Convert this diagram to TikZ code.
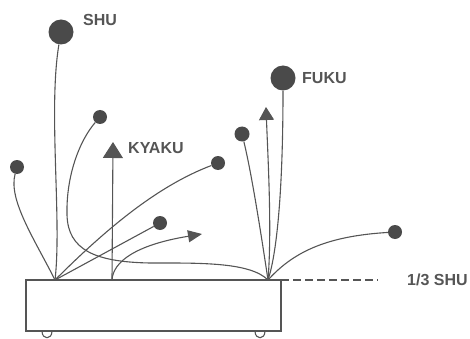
\documentclass[tikz,border=0pt]{standalone}
\usepackage{fontspec}
\setmainfont{Liberation Sans}
\usetikzlibrary{arrows.meta}
\definecolor{ink}{HTML}{555555}
\definecolor{dot}{HTML}{4A4A4A}
\tikzset{
  stem/.style={draw=ink, line width=1.1pt},
  bigdot/.style={circle, fill=dot, inner sep=0pt, minimum size=25pt},
  smalldot/.style={circle, fill=dot, inner sep=0pt, minimum size=14pt},
  lab/.style={anchor=west, inner sep=0pt, text=ink, font=\fontsize{16}{18}\selectfont\bfseries},
}
\begin{document}
\begin{tikzpicture}[x=1pt,y=-1pt]
\useasboundingbox (0,0) rectangle (470,339);
% origins
\coordinate (L) at (55,280);
\coordinate (M) at (112,280);
\coordinate (R) at (268,280);
% flowers
\node[bigdot] (shu) at (61,32) {};
\node[bigdot] (fuku) at (283,78) {};
\node[smalldot] (c1) at (17,167) {};
\node[smalldot] (c2) at (100,117) {};
\node[smalldot] (c3) at (218,163) {};
\node[smalldot] (c4) at (160,223) {};
\node[smalldot, minimum size=15pt] (c5) at (242,134) {};
\node[smalldot] (c6) at (395,232) {};
\coordinate (kyakutip) at (113,142);
\coordinate (fukutip) at (266,107);
\coordinate (sidetip) at (202,234);
% labels
\node[lab] (shul) at (83,20) {SHU};
\node[lab] (kyakul) at (128,148) {KYAKU};
\node[lab] (fukul) at (302,78) {FUKU};
\node[lab] (third) at (407,280) {1/3 SHU};
% container
\draw[ink, line width=1.3pt] (26,280) rectangle (281,331);
\draw[ink, line width=1.1pt] (42,331) .. controls (42,340) and (52,340) .. (52,331);
\draw[ink, line width=1.1pt] (255,331) .. controls (255,340) and (265,340) .. (265,331);
\coordinate (dashend) at (378,280);
\draw[ink, line width=1.1pt, dash pattern=on 8pt off 4pt] (281,280) -- (dashend);
% stems from left origin
\draw[stem] (L) .. controls (62,220) and (48,110) .. (shu);
\draw[stem] (L) .. controls (35,240) and (8,200) .. (c1);
\draw[stem] (L) .. controls (110,225) and (160,185) .. (c3);
\draw[stem] (L) -- (c4);
% middle origin
\draw[stem, -{Triangle[length=16pt,width=20pt]}] (M) -- (kyakutip);
\draw[stem, -{Triangle[length=14pt,width=12pt]}] (M) .. controls (113,262) and (135,245) .. (sidetip);
% right origin
\draw[stem] (R) .. controls (250,262) and (200,263) .. (150,263)
  .. controls (95,262) and (68,250) .. (67,215)
  .. controls (66,175) and (80,140) .. (c2);
\draw[stem] (R) .. controls (278,250) and (283,180) .. (fuku);
\draw[stem, -{Triangle[length=13pt,width=15pt]}] (R) .. controls (272,230) and (268,160) .. (fukutip);
\draw[stem] (R) .. controls (262,240) and (252,175) .. (c5);
\draw[stem] (R) .. controls (295,250) and (330,236) .. (c6);
\end{tikzpicture}
\end{document}
